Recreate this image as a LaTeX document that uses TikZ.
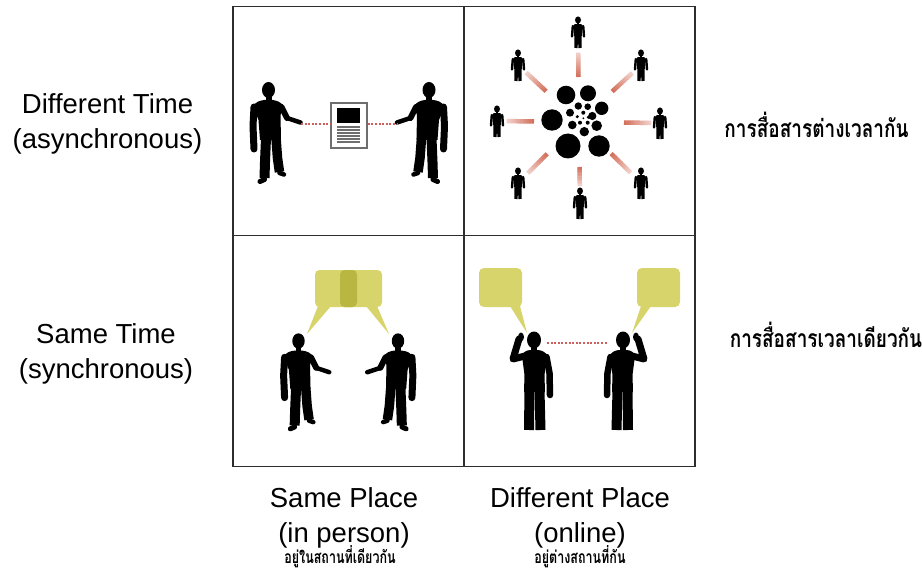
\documentclass[tikz,border=0pt]{standalone}
\usepackage{fontspec}
\setmainfont{Liberation Sans}
\newfontfamily\thaifont[Script=Thai]{Loma}
\usetikzlibrary{calc}

\definecolor{framecol}{RGB}{45,45,45}
\definecolor{bubblecol}{RGB}{216,212,108}
\definecolor{bubbledark}{RGB}{186,182,66}
\definecolor{linkred}{RGB}{205,95,95}
\definecolor{raycol}{RGB}{212,112,92}
\definecolor{docgray}{RGB}{110,110,110}

\tikzset{
  rowlab/.style={align=center, inner sep=0pt, font=\fontsize{27.5}{35}\selectfont},
  thaibig/.style={inner sep=0pt, font=\thaifont\bfseries\fontsize{19}{22}\selectfont,
    yscale=1.3, transform shape},
  thaismall/.style={inner sep=0pt, font=\thaifont\bfseries\fontsize{12.5}{15}\selectfont,
    yscale=1.4, transform shape},
  gridline/.style={draw=framecol, line width=1.8pt},
  linkdots/.style={draw=linkred, line width=1.3pt, dash pattern=on 2pt off 1.6pt},
  docbox/.style={draw=docgray, line width=1.4pt, fill=white, inner sep=0pt,
    minimum width=36pt, minimum height=45pt},
  bubble/.style={fill=bubblecol, rounded corners=4.5pt},
  % standing person, one arm held out towards +x (#1 = x scale, #2 = y scale)
  pics/armout/.style 2 args={code={
    \begin{scope}[xscale=#1, yscale=#2]
    \fill (0,0) ellipse [x radius=6.5, y radius=8];
    \fill (-3,5) rectangle (3,12);
    \fill (-4,10) .. controls (-9,10.5) and (-13,12) .. (-15.5,16.5) -- (-10,30)
          -- (-8.5,50) -- (12.5,50) -- (12,25) -- (15,16.5)
          .. controls (13,12) and (8,10.5) .. (4,10) -- cycle;
    \draw[line width=7pt, line cap=round, line join=round] (-14.5,17) -- (-15.5,36) -- (-14.5,59);
    \draw[line width=6pt, line cap=round] (13,17) -- (18.5,28);
    \draw[line width=4.5pt, line cap=round] (18.5,28) -- (32,32.5);
    \draw[line width=10pt, line join=round] (-2.5,48) -- (-3.5,72) -- (-4,88);
    \draw[line width=5pt, line cap=round] (-4,89.5) -- (-8.5,91.5);
    \draw[line width=9.5pt, line join=round] (7.5,48) -- (9,68) -- (11,82);
    \draw[line width=4.5pt, line cap=round] (11,83) -- (15.5,84.5);
    \end{scope}
  }},
  % standing person holding a phone to the ear on the -x side (#1 = x scale)
  pics/phoneman/.style={code={
    \begin{scope}[xscale=#1]
    \fill (0,0) ellipse [x radius=7, y radius=8.5];
    \fill (-3,5) rectangle (3,12);
    \fill (-4,10) .. controls (-8,10.5) and (-11,12) .. (-12,16) -- (-9.5,35)
          -- (-10,52) -- (11,52) -- (10.5,35) -- (13,16)
          .. controls (12,12) and (8,10.5) .. (4,10) -- cycle;
    \draw[line width=6.5pt, line cap=round, line join=round] (12.5,17) -- (15.5,33) -- (16,55);
    \draw[line width=7pt, line cap=round, line join=round] (-9,16) -- (-21,19) -- (-15,-1);
    \fill (-13,-3) ellipse [x radius=3, y radius=4.5];
    \draw[line width=10pt] (-4.5,50) -- (-5,90);
    \draw[line width=10pt] (5.5,50) -- (6.5,90);
    \end{scope}
  }},
  % small standing figure, arms down
  pics/tinyman/.style={code={
    \fill (0,0) ellipse [x radius=3, y radius=3.6];
    \fill (-1.2,2) rectangle (1.2,5);
    \fill (-4.6,5.5) .. controls (-4.2,4.2) and (-3,4) .. (0,4)
          .. controls (3,4) and (4.2,4.2) .. (4.6,5.5) -- (3.8,16) -- (-3.8,16) -- cycle;
    \draw[line width=2.4pt, line cap=round] (-5.2,6) -- (-6,16.5);
    \draw[line width=2.4pt, line cap=round] (5.2,6) -- (6,16.5);
    \draw[line width=3.4pt] (-1.8,15) -- (-2,28);
    \draw[line width=3.4pt] (1.8,15) -- (2,28);
  }},
}

\begin{document}
\begin{tikzpicture}[x=1pt, y=-1pt]
  \useasboundingbox (0,0) rectangle (922,575);
  \fill[white] (0,0) rectangle (922,575);

  % two-by-two grid
  \draw[gridline] (233,6.5) rectangle (695,466.5);
  \draw[gridline] (464,6.5) -- (464,466.5);
  \draw[gridline] (233,235.5) -- (695,235.5);

  % row and column headings
  \node[rowlab] (difftime) at (107.5,123.5) {Different Time\\(asynchronous)};
  \node[rowlab] (sametime) at (106,353.5) {Same Time\\(synchronous)};
  \node[rowlab] (sameplace) at (344,517.5) {Same Place\\(in person)};
  \node[rowlab] (diffplace) at (580,517.5) {Different Place\\(online)};
  \node[thaismall] (sameplaceth) at (340,557) {อยู่ในสถานที่เดียวกัน};
  \node[thaismall] (diffplaceth) at (580,557) {อยู่ต่างสถานที่กัน};
  \node[thaibig] (difftimeth) at (816.5,125) {การสื่อสารต่างเวลากัน};
  \node[thaibig] (sametimeth) at (826,335) {การสื่อสารเวลาเดียวกัน};

  % ---- same place, different time: a shared document
  \pic (writer) at (268.5,90) {armout={1}{1}};
  \pic (reader) at (429,90) {armout={-1}{1}};
  \node[docbox] (doc) at (349,125.5) {};
  \fill (337,108) rectangle (360,123);
  \foreach \ly in {127,130,133,136,139,142}
    \draw[docgray, line width=1.1pt] (337,\ly) -- (360,\ly);
  \coordinate (writerhand) at (301,124);
  \coordinate (readerhand) at (397,124);
  \draw[linkdots] (writerhand) -- (doc.west |- writerhand);
  \draw[linkdots] (doc.east |- readerhand) -- (readerhand);

  % ---- different place, different time: a hub with rays
  \coordinate (hub) at (579,122);
  \foreach \nm/\hx/\hy/\len in {ft/578/20/69, ftl/518/53/72, ftr/641/53/72,
      fl/497/109/72, fr/660/111/72, fbl/518/171/72, fbr/641/171/72, fb/580/191/64}{
    \pic (\nm) at (\hx,\hy) {tinyman};
    \coordinate (\nm c) at (\hx,\hy+12);
    \foreach \i in {0,...,11}{
      \pgfmathsetmacro\ra{45+\i*(\len-45)/12}
      \pgfmathsetmacro\rb{45+(\i+1.15)*(\len-45)/12}
      \pgfmathtruncatemacro\pct{100-\i*6}
      \draw[raycol!\pct!white, line width=4.5pt]
        ($(hub)!\ra pt!(\nm c)$) -- ($(hub)!\rb pt!(\nm c)$);
    }
  }
  \foreach \cx/\cy/\cr in {568/146/12.5, 599/146/10.7, 552/120/10.7, 566/95/9.3,
      588/93.3/8, 601.7/108.3/6.7, 596.7/125.7/5.3, 584.3/131.7/4.7,
      572.3/125/4.3, 570/112.7/4, 578.3/106/3.7, 587.7/106.7/3.3, 592.3/116/4.1,
      583.3/112.7/2, 577.3/116.7/1.7, 588.3/117.3/1.7, 580/122.7/2,
      587.7/122.7/2, 583.3/118.3/1}
    \fill (\cx,\cy) circle [radius=\cr];

  % ---- same place, same time: a conversation
  \fill[bubble] (315,270) rectangle (357,307);
  \fill[bubble] (340,270) rectangle (382,307);
  \fill[bubbledark, rounded corners=4.5pt] (340,270) rectangle (357,307);
  \fill[bubblecol] (318,306) -- (307,334) -- (331,306) -- cycle;
  \fill[bubblecol] (366,306) -- (389,334) -- (377,306) -- cycle;
  \pic (talkerA) at (298.5,341) {armout={0.96}{0.96}};
  \pic (talkerB) at (398,341) {armout={-0.96}{0.96}};

  % ---- different place, same time: a phone call
  \fill[bubble, rounded corners=5pt] (479,268) rectangle (522,307);
  \fill[bubblecol] (510,306) -- (527,333) -- (520,306) -- cycle;
  \fill[bubble, rounded corners=5pt] (637,268) rectangle (680,307);
  \fill[bubblecol] (641,306) -- (632,333) -- (651,306) -- cycle;
  \pic (callerA) at (534,340) {phoneman=1};
  \pic (callerB) at (623,340) {phoneman=-1};
  \coordinate (lineA) at (547,343);
  \coordinate (lineB) at (608,343);
  \draw[linkdots] (lineA) -- (lineB);
\end{tikzpicture}
\end{document}
